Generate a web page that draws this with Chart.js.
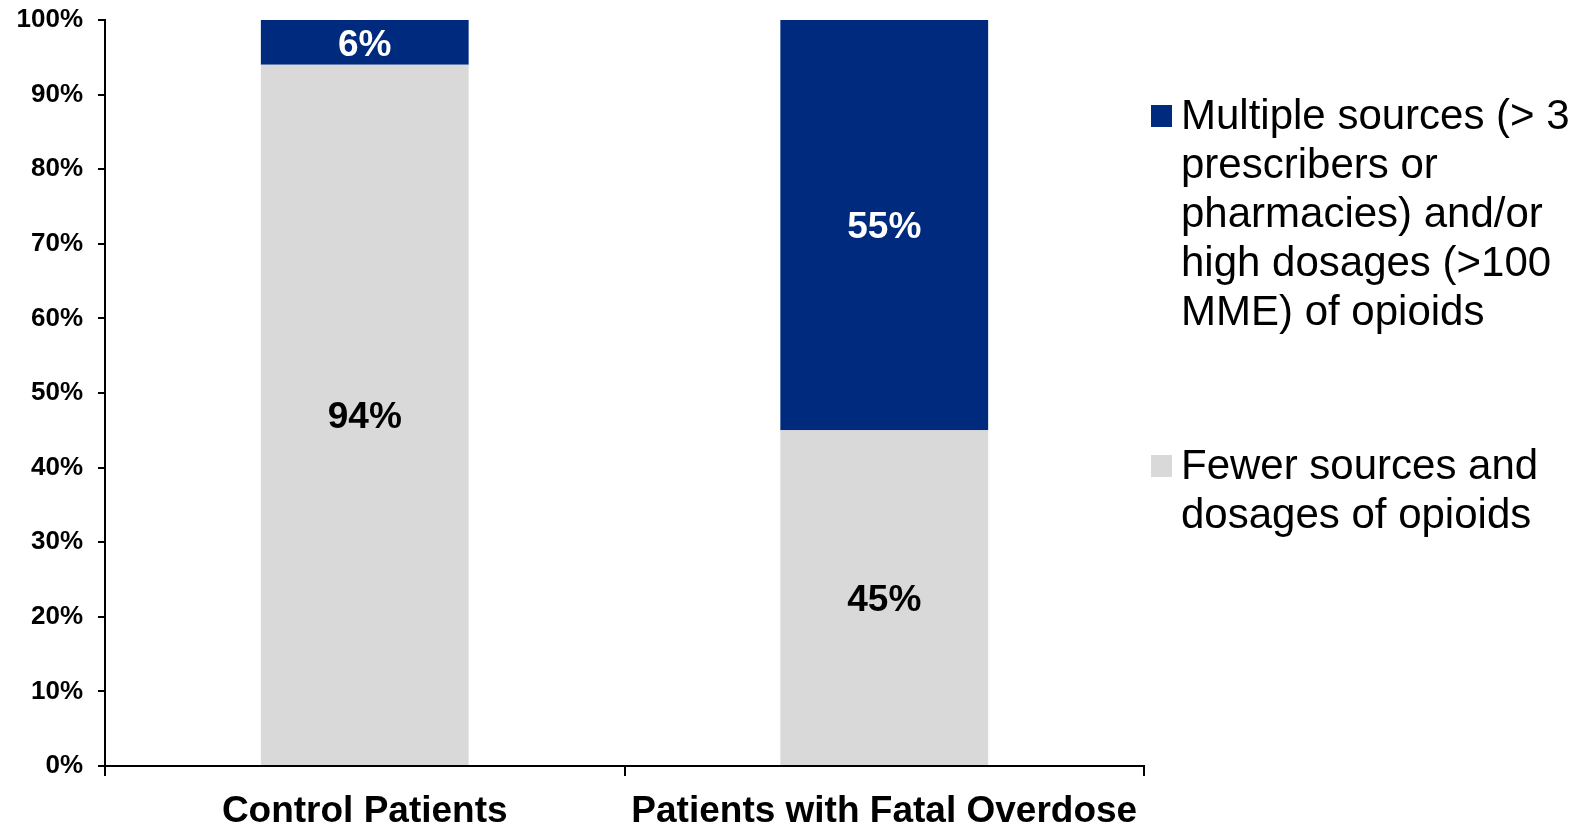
<!DOCTYPE html>
<html>
<head>
<meta charset="utf-8">
<script src="https://cdn.jsdelivr.net/npm/chart.js@4"></script>
<style>
  html, body { margin: 0; padding: 0; background: #fff; }
  #wrap { width: 1583px; height: 824px; position: relative; }
</style>
</head>
<body>
<div id="wrap"><canvas id="chart"></canvas></div>
<script>
/* ── Opioid sources stacked bar ──────────────────── */

const categories = ["Control Patients", "Patients with Fatal Overdose"];
const fewerValues = [94, 45];
const multipleValues = [6, 55];
const multipleLines = [
  "Multiple sources (> 3",
  "prescribers or",
  "pharmacies) and/or",
  "high dosages (>100",
  "MME) of opioids",
];
const fewerLines = ["Fewer sources and", "dosages of opioids"];

const NAVY = "#002A7E";
const GRAY = "#D9D9D9";
const FONT = "'Liberation Sans', Arial, sans-serif";

Chart.defaults.font.family = FONT;
Chart.defaults.color = "#000";

const barLabels = {
  id: "barLabels",
  afterDatasetsDraw(chart) {
    const ctx = chart.ctx;
    ctx.save();
    ctx.font = `bold 37px ${FONT}`;
    ctx.textAlign = "center";
    ctx.textBaseline = "middle";
    chart.data.datasets.forEach((ds, i) => {
      const meta = chart.getDatasetMeta(i);
      meta.data.forEach((bar, j) => {
        const { x, y } = bar.getCenterPoint();
        ctx.fillStyle = ds.labelColor;
        ctx.fillText(ds.data[j] + "%", x, y + 3);
      });
    });
    ctx.restore();
  },
};

const sideLegend = {
  id: "sideLegend",
  afterDraw(chart) {
    const ctx = chart.ctx;
    const x = 1151;
    const lineH = 49;
    const items = [
      { color: NAVY, lines: multipleLines, top: 117 },
      { color: GRAY, lines: fewerLines, top: 467 },
    ];
    ctx.save();
    ctx.font = `42px ${FONT}`;
    ctx.textAlign = "left";
    ctx.textBaseline = "middle";
    items.forEach(({ color, lines, top }) => {
      ctx.fillStyle = color;
      ctx.fillRect(x, top - 12, 21, 22);
      ctx.fillStyle = "#000";
      lines.forEach((t, k) => ctx.fillText(t, x + 30, top + k * lineH));
    });
    ctx.restore();
  },
};

new Chart(document.getElementById("chart"), {
  type: "bar",
  data: {
    labels: categories,
    datasets: [
      {
        label: fewerLines.join(" "),
        data: fewerValues,
        backgroundColor: GRAY,
        labelColor: "#000",
        barPercentage: 0.4,
        categoryPercentage: 1,
      },
      {
        label: multipleLines.join(" "),
        data: multipleValues,
        backgroundColor: NAVY,
        labelColor: "#fff",
        barPercentage: 0.4,
        categoryPercentage: 1,
      },
    ],
  },
  options: {
    responsive: true,
    maintainAspectRatio: false,
    animation: false,
    layout: { padding: { top: 20, right: 439, left: 0, bottom: 0 } },
    plugins: {
      legend: { display: false },
      tooltip: { enabled: false },
    },
    scales: {
      x: {
        stacked: true,
        grid: {
          drawOnChartArea: false,
          offset: true,
          tickLength: 10,
          color: "#000",
          lineWidth: 2,
        },
        border: { color: "#000", width: 2 },
        ticks: {
          color: "#000",
          padding: 14,
          maxRotation: 0,
          font: { size: 37, weight: "bold" },
        },
        afterFit: (scale) => {
          scale.height = 58;
          scale.paddingLeft = 0;
          scale.paddingRight = 0;
        },
      },
      y: {
        stacked: true,
        min: 0,
        max: 100,
        grid: {
          drawOnChartArea: false,
          tickLength: 7,
          color: "#000",
          lineWidth: 2,
        },
        border: { color: "#000", width: 2 },
        ticks: {
          stepSize: 10,
          color: "#000",
          padding: 15,
          font: { size: 26, weight: "bold" },
          callback: (v) => v + "%",
        },
        afterFit: (scale) => {
          scale.width = 105;
          scale.paddingTop = 0;
          scale.paddingBottom = 0;
        },
      },
    },
  },
  plugins: [barLabels, sideLegend],
});
</script>
</body>
</html>
